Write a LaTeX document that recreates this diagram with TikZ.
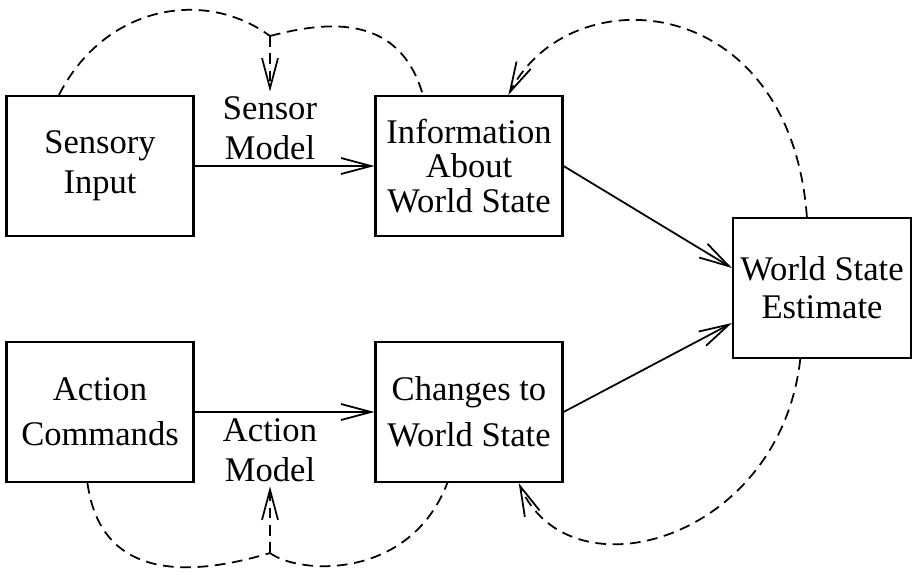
\documentclass[tikz,border=0pt]{standalone}
\usepackage{fontspec}
\setmainfont{Liberation Serif}
\usetikzlibrary{arrows.meta}

\begin{document}
\begin{tikzpicture}[x=0.03cm, y=-0.03cm,
    every node/.style={font=\fontsize{29.5}{34}\selectfont},
    blk/.style={draw, line width=1.8pt, minimum width=5.61cm, minimum height=4.2cm, align=center, inner sep=0pt},
    lbl/.style={align=center, inner sep=4pt},
    tip/.style={-{Straight Barb[length=0.9cm, width=0.48cm]}},
    flow/.style={line width=1.5pt, tip},
    feedback/.style={line width=1.5pt, dash pattern=on 0.32cm off 0.2cm}]
    \useasboundingbox (0,0) rectangle (914,574);

    % boxes
    \node[blk] (sin) at (100,166) {Sensory\\Input};
    \node[blk] (info) at (469,166) {Information\\[-0.15cm]About\\[-0.15cm]World State};
    \node[blk, minimum width=5.34cm] (wse) at (822,288) {World State\\[-0.06cm]Estimate};
    \node[blk] (act) at (100,412) {Action\\[0.15cm]Commands};
    \node[blk] (chg) at (469,412) {Changes to\\[0.18cm]World State};

    % model labels
    \node[lbl] (smodel) at (270,128) {Sensor\\Model};
    \node[lbl] (amodel) at (270,450) {Action\\Model};

    \draw[flow] (sin) -- (info);
    \draw[flow] (act) -- (chg);
    \draw[flow] (info.east) -- ([yshift=0.6cm]wse.west);
    \draw[flow] (chg.east) -- ([yshift=-1.05cm]wse.west);

    % feedback loops
    \coordinate (sj) at (270,36);
    \coordinate (aj) at (270,553);
    \draw[feedback] (sin.120) .. controls (105,5) and (205,-12) .. (sj);
    \draw[feedback] (sj) .. controls (330,20) and (400,15) .. (info.123);
    \draw[feedback, tip] (sj) -- (smodel);
    \draw[feedback, tip] (wse.102) .. controls (790,-10) and (570,-25) .. (info.61);

    \draw[feedback] (act.260) .. controls (100,575) and (180,580) .. (aj);
    \draw[feedback] (aj) .. controls (300,575) and (410,580) .. (chg.253);
    \draw[feedback, tip] (aj) -- (amodel);
    \draw[feedback, tip] (wse.253) .. controls (780,540) and (570,600) .. (chg.305);
\end{tikzpicture}
\end{document}
